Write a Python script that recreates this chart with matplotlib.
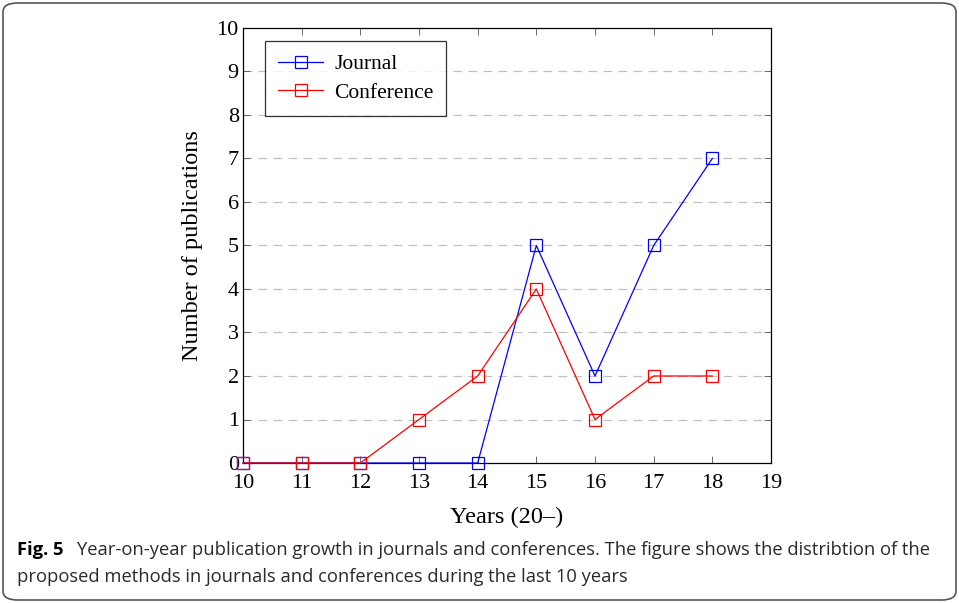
import matplotlib
matplotlib.use("Agg")
import matplotlib.pyplot as plt
from matplotlib.patches import FancyBboxPatch

years = [10, 11, 12, 13, 14, 15, 16, 17, 18]
journal = [0, 0, 0, 0, 0, 5, 2, 5, 7]
conference = [0, 0, 0, 1, 2, 4, 1, 2, 2]
xticks = list(range(10, 20))
yticks = list(range(0, 11))

W, H = 959, 603
fig = plt.figure(figsize=(W / 100, H / 100), dpi=100)
ax = fig.add_axes([243 / W, 1 - 463 / H, (771 - 243) / W, (463 - 28) / H])

serif = "Liberation Serif"
for y in yticks[1:-1]:
    ax.axhline(y, color="#c0c0c0", lw=0.9, dashes=(7, 5), zorder=0)

ax.plot(years, journal, color="#0000ff", lw=0.9, marker="s", ms=8.5, mfc="none",
        mec="#0000ff", mew=0.9, label="Journal", zorder=3, clip_on=False)
ax.plot(years, conference, color="#ff0000", lw=0.9, marker="s", ms=8.5, mfc="none",
        mec="#ff0000", mew=0.9, label="Conference", zorder=3, clip_on=False)

ax.set_xlim(10, 19)
ax.set_ylim(0, 10)
ax.set_xticks(xticks)
ax.set_yticks(yticks)
ax.set_xticklabels([str(t) for t in xticks], fontfamily=serif, fontsize=16)
ax.set_yticklabels([str(t) for t in yticks], fontfamily=serif, fontsize=16)
ax.tick_params(direction="in", length=5, width=0.6, color="#555555", top=True, right=True)
ax.tick_params(axis="x", pad=8)
ax.tick_params(axis="y", pad=3)
for s in ax.spines.values():
    s.set_linewidth(0.9)
ax.set_xlabel("Years (20–)", fontfamily=serif, fontsize=17.5, labelpad=10)
ax.set_ylabel("Number of publications", fontfamily=serif, fontsize=17.5, labelpad=10)

leg = ax.legend(loc="upper left", bbox_to_anchor=(0.042, 0.97), prop={"family": serif, "size": 15.5},
                frameon=True, fancybox=False, edgecolor="black", handlelength=2.1,
                borderpad=0.6, labelspacing=0.4, handletextpad=0.5, borderaxespad=0)
leg.get_frame().set_linewidth(0.9)

# Figure border
box = FancyBboxPatch((3 / W, 3 / H), (W - 6) / W, (H - 6) / H,
                     boxstyle="round,pad=0,rounding_size=0.015", transform=fig.transFigure,
                     fill=False, edgecolor="#555555", lw=1.2)
fig.patches.append(box)

cap = "Open Sans"
fig.text(17 / W, 1 - 550 / H, "Fig. 5", fontfamily=cap, fontweight="bold", fontsize=13.2, va="center")
fig.text(77 / W, 1 - 550 / H,
         "Year-on-year publication growth in journals and conferences. The figure shows the distribtion of the",
         fontfamily=cap, fontsize=13.2, va="center", color="#2a2a2a")
fig.text(17 / W, 1 - 577 / H, "proposed methods in journals and conferences during the last 10 years",
         fontfamily=cap, fontsize=13.2, va="center", color="#2a2a2a")

fig.savefig("out.png", dpi=100)
